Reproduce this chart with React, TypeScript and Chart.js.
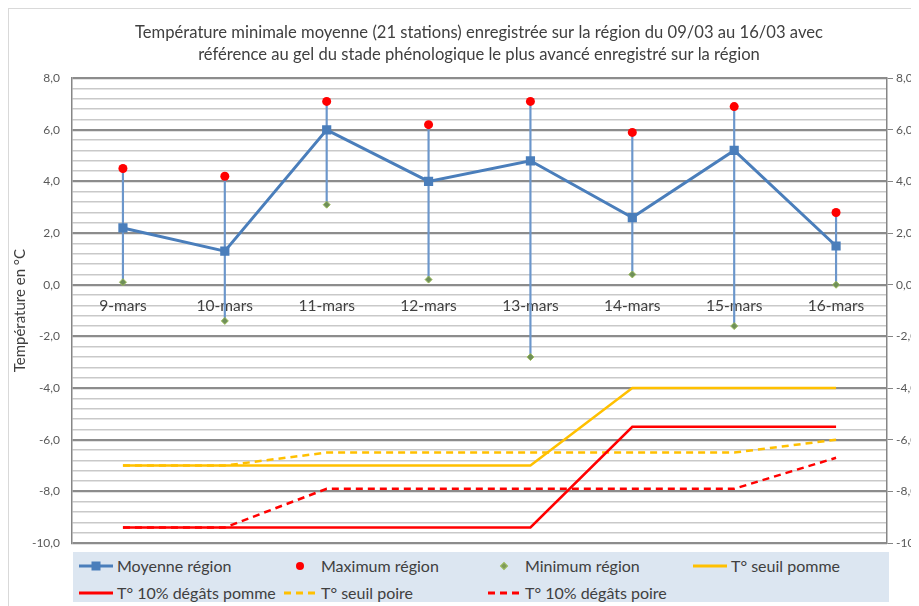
import React, { useEffect, useRef } from "react";
import { Chart, registerables } from "chart.js";

Chart.register(...registerables);

const categories = ["9-mars", "10-mars", "11-mars", "12-mars", "13-mars", "14-mars", "15-mars", "16-mars"];
const moyenne = [2.2, 1.3, 6.0, 4.0, 4.8, 2.6, 5.2, 1.5];
const maximum = [4.5, 4.2, 7.1, 6.2, 7.1, 5.9, 6.9, 2.8];
const minimum = [0.1, -1.4, 3.1, 0.2, -2.8, 0.4, -1.6, 0.0];
const seuilPomme = [-7, -7, -7, -7, -7, -4, -4, -4];
const degatsPomme = [-9.4, -9.4, -9.4, -9.4, -9.4, -5.5, -5.5, -5.5];
const seuilPoire = [-7, -7, -6.5, -6.5, -6.5, -6.5, -6.5, -6.0];
const degatsPoire = [-9.4, -9.4, -7.9, -7.9, -7.9, -7.9, -7.9, -6.7];

const titleLines = [
  "Température minimale moyenne (21 stations) enregistrée sur la région du 09/03 au 16/03 avec",
  "référence au gel du stade phénologique le plus avancé enregistré sur la région",
];
const yTitle = "Température en °C";
const yMin = -10;
const yMax = 8;
const yMinorStep = 0.4;
const yMajorStep = 2;

const FONT = "Lato, 'Open Sans', sans-serif";

const legendItems = [
  { label: "Moyenne région", kind: "lineSquare", color: "#4a7ebb" },
  { label: "Maximum région", kind: "dot", color: "#ff0000" },
  { label: "Minimum région", kind: "diamond", color: "#7f9a5a" },
  { label: "T° seuil pomme", kind: "line", color: "#ffc000" },
  { label: "T° 10% dégâts pomme", kind: "line", color: "#ff0000" },
  { label: "T° seuil poire", kind: "dash", color: "#ffc000" },
  { label: "T° 10% dégâts poire", kind: "dash", color: "#ff0000" },
];

const isMajor = (v: number) => Math.abs(v / yMajorStep - Math.round(v / yMajorStep)) < 1e-6;
const fmt = (v: number) => v.toFixed(1).replace(".", ",").replace("-0,0", "0,0");

function Marker({ kind, color }: { kind: string; color: string }) {
  return (
    <svg width={36} height={14} style={{ display: "block", flex: "none" }}>
      {kind === "lineSquare" && (
        <>
          <line x1={0} y1={7} x2={34} y2={7} stroke={color} strokeWidth={3} />
          <rect x={12.5} y={2.5} width={9} height={9} fill={color} />
        </>
      )}
      {kind === "dot" && <circle cx={17} cy={7} r={4} fill={color} />}
      {kind === "diamond" && (
        <rect x={14.5} y={4.5} width={5} height={5} fill={color} stroke="#9bbb59" strokeWidth={1} transform="rotate(45 17 7)" />
      )}
      {kind === "line" && <line x1={0} y1={7} x2={34} y2={7} stroke={color} strokeWidth={3} />}
      {kind === "dash" && <line x1={1} y1={7} x2={34} y2={7} stroke={color} strokeWidth={3} strokeDasharray="7 5" />}
    </svg>
  );
}

export default function App() {
  const canvasRef = useRef<HTMLCanvasElement | null>(null);

  useEffect(() => {
    document.body.style.overflow = "hidden";
    document.documentElement.style.overflow = "hidden";
    const ctx = canvasRef.current;
    if (!ctx) return;
    const lineDs = (label: string, data: number[], color: string, dashed: boolean) => ({
      type: "line" as const,
      label,
      data,
      borderColor: color,
      backgroundColor: color,
      borderWidth: 2.5,
      borderDash: dashed ? [7, 5] : [],
      pointRadius: 0,
      pointHoverRadius: 0,
      tension: 0,
      fill: false,
      order: 5,
      yAxisID: "y",
    });
    const chart = new Chart(ctx, {
      type: "line",
      data: {
        labels: categories,
        datasets: [
          {
            type: "bar" as const,
            label: "hi-lo",
            data: minimum.map((m, i) => [m, maximum[i]]) as any,
            backgroundColor: "#6b96cb",
            borderWidth: 0,
            barThickness: 1.5,
            order: 10,
            yAxisID: "y",
          } as any,
          lineDs("T° seuil pomme", seuilPomme, "#ffc000", false),
          lineDs("T° 10% dégâts pomme", degatsPomme, "#ff0000", false),
          lineDs("T° seuil poire", seuilPoire, "#ffc000", true),
          lineDs("T° 10% dégâts poire", degatsPoire, "#ff0000", true),
          {
            type: "line" as const,
            label: "Moyenne région",
            data: moyenne,
            borderColor: "#4a7ebb",
            backgroundColor: "#4a7ebb",
            borderWidth: 3,
            pointStyle: "rect",
            pointRadius: 6.5,
            pointBorderWidth: 0,
            tension: 0,
            order: 3,
            yAxisID: "y",
          },
          {
            type: "line" as const,
            label: "Maximum région",
            data: maximum,
            showLine: false,
            borderColor: "#ff0000",
            backgroundColor: "#ff0000",
            pointStyle: "circle",
            pointRadius: 4.5,
            pointBorderWidth: 0,
            order: 2,
            yAxisID: "y",
          },
          {
            type: "line" as const,
            label: "Minimum région",
            data: minimum,
            showLine: false,
            borderColor: "#9bbb59",
            backgroundColor: "#6f8f5a",
            pointStyle: "rectRot",
            pointRadius: 3.5,
            pointBorderWidth: 1,
            order: 1,
            yAxisID: "y",
          },
        ],
      },
      options: {
        responsive: false,
        animation: false,
        events: [],
        layout: { padding: { top: 0, bottom: 66, left: 0, right: 0 } },
        plugins: {
          legend: { display: false },
          tooltip: { enabled: false },
          title: {
            display: true,
            text: titleLines,
            color: "#404040",
            font: { family: FONT, size: 16.6, weight: "normal", lineHeight: 1.33 },
            padding: { top: 13, bottom: 12 },
          },
        },
        scales: {
          x: {
            type: "category",
            position: { y: 0 } as any,
            offset: true,
            grid: { display: false, drawTicks: false },
            border: { display: false },
            ticks: {
              color: "#404040",
              padding: 12,
              maxRotation: 0,
              autoSkip: false,
              font: { family: FONT, size: 15.5 },
            },
          },
          y: {
            type: "linear",
            position: "left",
            min: yMin,
            max: yMax,
            afterFit: (s: any) => {
              s.width = 63;
            },
            title: {
              display: true,
              text: yTitle,
              color: "#404040",
              font: { family: FONT, size: 15 },
              padding: { top: 2, bottom: 0 },
            },
            border: { display: true, color: "#868686", width: 1.5 },
            grid: {
              drawTicks: false,
              color: (c: any) => (isMajor(c.tick.value) ? "#8c8c8c" : "#c9c9c9"),
              lineWidth: (c: any) => (isMajor(c.tick.value) ? 2.2 : 1.4),
            },
            ticks: {
              stepSize: yMinorStep,
              autoSkip: false,
              padding: 12,
              color: "#595959",
              font: { family: FONT, size: 12 },
              callback: (v: any) => (isMajor(Number(v)) ? fmt(Number(v)) : ""),
            },
          },
          y2: {
            type: "linear",
            position: "right",
            min: yMin,
            max: yMax,
            afterFit: (s: any) => {
              s.width = 62;
            },
            border: { display: true, color: "#868686", width: 1.5 },
            grid: {
              drawOnChartArea: false,
              drawTicks: true,
              tickLength: 6,
              tickColor: (c: any) => (isMajor(c.tick.value) ? "#868686" : "rgba(0,0,0,0)"),
              lineWidth: 1,
            },
            ticks: {
              stepSize: yMinorStep,
              autoSkip: false,
              padding: 3,
              color: "#595959",
              font: { family: FONT, size: 12 },
              callback: (v: any) => (isMajor(Number(v)) ? fmt(Number(v)) : ""),
            },
          },
        },
      } as any,
    });
    return () => chart.destroy();
  }, []);

  return (
    <div
      style={{
        position: "relative",
        width: 940,
        height: 610,
        border: "1px solid #d9d9d9",
        background: "#ffffff",
      }}
    >
      <canvas ref={canvasRef} width={940} height={600} style={{ display: "block", width: 940, height: 600 }} />
      <div
        style={{
          position: "absolute",
          left: 64,
          top: 543,
          width: 816,
          height: 50,
          background: "#dce6f1",
          fontFamily: FONT,
          fontSize: 16,
          color: "#404040",
          display: "grid",
          gridTemplateColumns: "204px 204px 206px 202px",
          gridAutoRows: "27px",
          alignItems: "center",
        }}
      >
        {legendItems.map((it) => (
          <div key={it.label} style={{ display: "flex", alignItems: "center", paddingLeft: 6, whiteSpace: "nowrap" }}>
            <Marker kind={it.kind} color={it.color} />
            <span style={{ marginLeft: 2 }}>{it.label}</span>
          </div>
        ))}
      </div>
    </div>
  );
}
